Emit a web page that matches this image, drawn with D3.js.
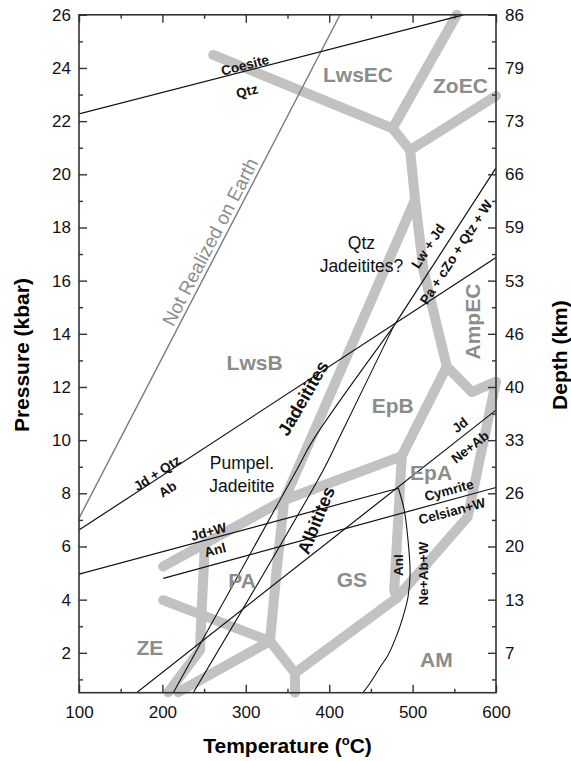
<!DOCTYPE html>
<html>
<head>
<meta charset="utf-8">
<script src="https://cdn.jsdelivr.net/npm/d3@7"></script>
<style>
  body { margin: 0; background: #fff; }
  text { font-family: "Liberation Sans", Arial, sans-serif; }
</style>
</head>
<body>
<div id="grafica"></div>
<script>
// ---- axis ticks ----
const tempTicks = [100, 200, 300, 400, 500, 600];
const tempMinor = [150, 250, 350, 450, 550];
const presTicks = [2, 4, 6, 8, 10, 12, 14, 16, 18, 20, 22, 24, 26];
const presMinor = [1, 3, 5, 7, 9, 11, 13, 15, 17, 19, 21, 23, 25];
const depthLabels = [7, 13, 20, 26, 33, 40, 46, 53, 59, 66, 73, 79, 86];

// ---- facies boundaries [T (oC), P (kbar)] ----
const bLwsEC = [[261, 24.49], [476, 21.73], [553, 26]];
const bZoEC = [[476, 21.73], [497, 20.91], [600, 22.95]];
const bEast = [[497, 20.91], [503, 19.04], [513, 16.4], [541, 12.77], [571, 11.81], [600, 12.2],
               [566, 7.11], [481, 4.06], [359, 1.24], [359, 0.5]];
const bJade = [[503, 19.04], [346, 7.75], [337, 5.11], [329, 2.44], [359, 1.24]];
const bEpB = [[541, 12.77], [487, 9.4], [478, 4.36], [481, 4.06]];
const bEpA = [[487, 9.4], [346, 7.75], [201, 5.25]];
const bPA = [[251, 6.08], [247.5, 3.87], [245, 2.1], [207, 0.52]];
const bZE = [[201, 3.98], [329, 2.44]];
const bZE2 = [[329, 2.44], [219, 0.52]];

// ---- reaction lines ----
const coesite = [[100, 22.27], [561, 26]];
const notRealized = [[100, 7.06], [413, 26]];
const jdQtzAb = [[100, 6.62], [600, 16.87]];
const jdWAnl = [[100, 4.96], [483, 8.19]];
const cymrite = [[201, 4.80], [600, 8.22]];
const jdNeAb = [[169, 0.5], [600, 11.13]];
const lwJd = [[477, 14.27], [600, 20.24]];
const lineA = [[213, 0.5], [361, 8.88], [380.6, 10.0], [477, 14.27]];
const lineB = [[237, 0.5], [393, 8.88], [410.6, 10.0], [477, 14.27]];
const anlCurve = [[483, 8.19], [490, 7.37], [494.5, 6.24], [497, 5.0], [494.5, 4.1], [487.3, 3.23],
                  [480.1, 2.59], [470.5, 1.91], [461, 1.46], [451.3, 0.97], [440.5, 0.5]];

// ---- labels ----
const faciesNames = ["LwsEC", "ZoEC", "LwsB", "EpB", "EpA", "PA", "GS", "ZE", "AM"];
const faciesAt = [[392.6, 23.47], [524.5, 23.06], [277, 12.64], [451, 11.02], [497, 8.5],
                  [279, 4.44], [409, 4.48], [169, 1.91], [509, 1.47]];
// text, T, P, angle
const reactionLabels = [
  ["Coesite", 299, 24.11, -14.5],
  ["Qtz", 301.4, 23.13, -14.5],
  ["Jd + Qtz", 193.5, 8.76, -33],
  ["Ab", 206.1, 8.16, -33],
  ["Jd+W", 255.3, 6.56, -15],
  ["Anl", 263.1, 5.87, -15],
  ["Lw + Jd", 518.5, 17.3, -57],
  ["Pa + cZo + Qtz + W", 552.1, 17.07, -57],
  ["Jd", 556.8, 10.57, -38],
  ["Ne+Ab", 568.8, 9.74, -38],
  ["Cymrite", 543.6, 8.12, -15],
  ["Celsian+W", 547.2, 7.33, -15],
  ["Anl", 482.5, 5.30, -90],
  ["Ne+Ab+W", 513.1, 4.98, -90]
];
const rockLabels = [["Jadeitites", 368.6, 11.58, -60], ["Albitites", 384.2, 6.99, -68]];

const W = 571, H = 761;
const m = { left: 79, right: 75, top: 14.8, bottom: 68.3 };

const svg = d3.select("#grafica").append("svg")
  .attr("width", W)
  .attr("height", H);

const x = d3.scaleLinear().domain([100, 600]).range([m.left, W - m.right]);
const y = d3.scaleLinear().domain([0.5, 26]).range([H - m.bottom, m.top]);

const line = d3.line().x(d => x(d[0])).y(d => y(d[1]));
const curve = d3.line().x(d => x(d[0])).y(d => y(d[1])).curve(d3.curveCatmullRom.alpha(0.5));

// gray facies bands
const bands = [bLwsEC, bZoEC, bEast, bJade, bEpB, bEpA, bPA, bZE, bZE2];
svg.append("g").selectAll("path")
  .data(bands)
  .join("path")
  .attr("d", line)
  .attr("fill", "none")
  .attr("stroke", "#c2c2c2")
  .attr("stroke-width", 10)
  .attr("stroke-linecap", "round")
  .attr("stroke-linejoin", "round");

svg.append("clipPath").attr("id", "area")
  .append("rect")
  .attr("x", m.left).attr("y", m.top)
  .attr("width", W - m.left - m.right).attr("height", H - m.top - m.bottom);

const lines = svg.append("g").attr("clip-path", "url(#area)");

lines.append("path")
  .attr("d", line(notRealized))
  .attr("fill", "none")
  .attr("stroke", "#7a7a7a")
  .attr("stroke-width", 1.4);

lines.selectAll(".reac")
  .data([coesite, jdQtzAb, jdWAnl, cymrite, jdNeAb, lwJd])
  .join("path")
  .attr("class", "reac")
  .attr("d", line)
  .attr("fill", "none")
  .attr("stroke", "#111")
  .attr("stroke-width", 1.2);

lines.selectAll(".curva")
  .data([lineA, lineB, anlCurve])
  .join("path")
  .attr("class", "curva")
  .attr("d", curve)
  .attr("fill", "none")
  .attr("stroke", "#111")
  .attr("stroke-width", 1.1);

// axes (ticks inward)
function estilo(g) {
  g.select(".domain").remove();
  g.selectAll("line").attr("stroke", "#333").attr("stroke-width", 1.4);
  g.selectAll("text").attr("font-size", 17).attr("fill", "#111")
    .attr("font-family", '"Liberation Sans", Arial, sans-serif');
}
const yb = H - m.bottom, xr = W - m.right;

svg.append("g").attr("transform", `translate(0,${yb})`)
  .call(d3.axisBottom(x).tickValues(tempTicks).tickSize(-8).tickPadding(13)).call(estilo);
svg.append("g").attr("transform", `translate(0,${yb})`)
  .call(d3.axisBottom(x).tickValues(tempMinor).tickSize(-4).tickFormat("")).call(estilo);
svg.append("g").attr("transform", `translate(0,${m.top})`)
  .call(d3.axisTop(x).tickValues(tempTicks).tickSize(-8).tickFormat("")).call(estilo);
svg.append("g").attr("transform", `translate(0,${m.top})`)
  .call(d3.axisTop(x).tickValues(tempMinor).tickSize(-4).tickFormat("")).call(estilo);

svg.append("g").attr("transform", `translate(${m.left},0)`)
  .call(d3.axisLeft(y).tickValues(presTicks).tickSize(-8).tickPadding(8)).call(estilo);
svg.append("g").attr("transform", `translate(${m.left},0)`)
  .call(d3.axisLeft(y).tickValues(presMinor).tickSize(-4).tickFormat("")).call(estilo);
svg.append("g").attr("transform", `translate(${xr},0)`)
  .call(d3.axisRight(y).tickValues(presTicks).tickSize(-8).tickPadding(9)
    .tickFormat((d, i) => depthLabels[i])).call(estilo);
svg.append("g").attr("transform", `translate(${xr},0)`)
  .call(d3.axisRight(y).tickValues(presMinor).tickSize(-4).tickFormat("")).call(estilo);

svg.append("rect")
  .attr("x", m.left).attr("y", m.top)
  .attr("width", xr - m.left).attr("height", yb - m.top)
  .attr("fill", "none")
  .attr("stroke", "#333")
  .attr("stroke-width", 1.6);

// axis titles
let tt = svg.append("text")
  .attr("x", (m.left + xr) / 2).attr("y", 753)
  .attr("text-anchor", "middle")
  .attr("font-size", 21).attr("font-weight", "bold")
  .text("Temperature (");
tt.append("tspan").attr("font-size", 13).attr("dy", -8).text("o");
tt.append("tspan").attr("dy", 8).text("C)");

svg.append("text")
  .attr("transform", `translate(29,${y(13.2)}) rotate(-90)`)
  .attr("text-anchor", "middle")
  .attr("font-size", 21).attr("font-weight", "bold")
  .text("Pressure (kbar)");

svg.append("text")
  .attr("transform", `translate(567,${y(13.2)}) rotate(-90)`)
  .attr("text-anchor", "middle")
  .attr("font-size", 21).attr("font-weight", "bold")
  .text("Depth (km)");

// facies names
svg.append("g").selectAll("text")
  .data(faciesNames)
  .join("text")
  .attr("x", (d, i) => x(faciesAt[i][0]))
  .attr("y", (d, i) => y(faciesAt[i][1]))
  .attr("font-size", 21).attr("font-weight", "bold")
  .attr("fill", "#8c8c8c")
  .text(d => d);

svg.append("text")
  .attr("transform", `translate(${x(572.4)},${y(14.46)}) rotate(-90)`)
  .attr("text-anchor", "middle").attr("dy", "0.35em")
  .attr("font-size", 21).attr("font-weight", "bold")
  .attr("fill", "#8c8c8c")
  .text("AmpEC");

svg.append("text")
  .attr("transform", `translate(${x(257.1)},${y(17.46)}) rotate(-62.6)`)
  .attr("text-anchor", "middle").attr("dy", "0.35em")
  .attr("font-size", 19)
  .attr("fill", "#8c8c8c")
  .text("Not Realized on Earth");

// reaction labels
svg.append("g").selectAll("text")
  .data(reactionLabels)
  .join("text")
  .attr("transform", d => `translate(${x(d[1])},${y(d[2])}) rotate(${d[3]})`)
  .attr("text-anchor", "middle").attr("dy", "0.35em")
  .attr("font-size", 13.5).attr("font-weight", "bold")
  .attr("fill", "#111")
  .text(d => d[0]);

svg.append("g").selectAll("text")
  .data(rockLabels)
  .join("text")
  .attr("transform", d => `translate(${x(d[1])},${y(d[2])}) rotate(${d[3]})`)
  .attr("text-anchor", "middle").attr("dy", "0.35em")
  .attr("font-size", 18).attr("font-weight", "bold")
  .attr("fill", "#111")
  .text(d => d[0]);

// two-line notes
function nota(lineas, T, P) {
  let t = svg.append("text")
    .attr("x", x(T)).attr("y", y(P))
    .attr("text-anchor", "middle")
    .attr("font-size", 17.5).attr("fill", "#111");
  lineas.forEach((l, i) => {
    t.append("tspan").attr("x", x(T)).attr("dy", i ? 23 : 0).text(l);
  });
}
nota(["Qtz", "Jadeitites?"], 438.7, 17.18);
nota(["Pumpel.", "Jadeitite"], 295.4, 8.9);
</script>
</body>
</html>
